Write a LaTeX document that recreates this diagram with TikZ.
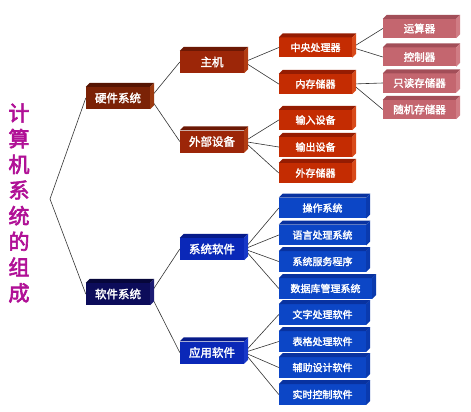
\documentclass[tikz,border=0pt]{standalone}
\usepackage{fontspec}
\newfontfamily\cjk{Noto Sans CJK SC}[FakeBold=2.2]
\newfontfamily\cjkt{Noto Sans CJK SC}[FakeBold=3]
\usetikzlibrary{backgrounds}
\definecolor{hAf}{HTML}{7B2206}\definecolor{hAt}{HTML}{561403}\definecolor{hAs}{HTML}{9C3A10}
\definecolor{hBf}{HTML}{9C2608}\definecolor{hBt}{HTML}{6C1804}\definecolor{hBs}{HTML}{B23C12}
\definecolor{hCf}{HTML}{C42C02}\definecolor{hCt}{HTML}{951C02}\definecolor{hCs}{HTML}{D84A1A}
\definecolor{hDf}{HTML}{C4666F}\definecolor{hDt}{HTML}{A24E58}\definecolor{hDs}{HTML}{D07C84}
\definecolor{sAf}{HTML}{0C0C5A}\definecolor{sAt}{HTML}{06063A}\definecolor{sAs}{HTML}{1C1C74}
\definecolor{sBf}{HTML}{0A28B8}\definecolor{sBt}{HTML}{061A8A}\definecolor{sBs}{HTML}{1838C8}
\definecolor{sCf}{HTML}{0C46C6}\definecolor{sCt}{HTML}{0832A0}\definecolor{sCs}{HTML}{0A3AAE}
\definecolor{titlec}{RGB}{176,16,150}
\tikzset{
  bx/.style={rectangle, inner sep=0pt, text=white},
  lvA/.style={bx, minimum width=64pt, minimum height=22pt, font=\cjk\fontsize{11.5}{13}\selectfont},
  lvB/.style={bx, minimum width=64pt, minimum height=22pt, font=\cjk\fontsize{11.5}{13}\selectfont},
  lvC/.style={bx, minimum width=73pt, minimum height=20pt, font=\cjk\fontsize{10}{12}\selectfont},
  lvD/.style={bx, minimum width=73pt, minimum height=19pt, font=\cjk\fontsize{10.5}{12}\selectfont},
  lvS/.style={bx, minimum width=87pt, minimum height=20.5pt, font=\cjk\fontsize{10}{12}\selectfont},
  link/.style={draw=black!80, line width=0.6pt},
}
\newcommand\boxfaces[3]{%
  \fill[#2] (#1.north west) -- ++(4pt,4pt) -- ([shift={(4pt,4pt)}]#1.north east) -- (#1.north east) -- cycle;
  \fill[#3] (#1.north east) -- ([shift={(4pt,4pt)}]#1.north east) -- ([shift={(4pt,4pt)}]#1.south east) -- (#1.south east) -- cycle;}
\begin{document}
\begin{tikzpicture}[x=1pt,y=-1pt]
\useasboundingbox (0,0) rectangle (471,412);
% title
\node[font=\cjkt\fontsize{21}{25.7}\selectfont, text=titlec, align=center, inner sep=0pt] (title) at (19,203) {计\\算\\机\\系\\统\\的\\组\\成};
\coordinate (root) at (50,199);
% hardware
\node[lvA, fill=hAf] (hw) at (118,98) {硬件系统}; \boxfaces{hw}{hAt}{hAs}
\node[lvB, fill=hBf] (zj) at (212,62) {主机}; \boxfaces{zj}{hBt}{hBs}
\node[lvB, fill=hBf] (wb) at (212,141.5) {外部设备}; \boxfaces{wb}{hBt}{hBs}
\node[lvC, fill=hCf] (cpu) at (315.5,47.5) {中央处理器}; \boxfaces{cpu}{hCt}{hCs}
\node[lvC, fill=hCf] (nc) at (315.5,84) {内存储器}; \boxfaces{nc}{hCt}{hCs}
\node[lvC, fill=hCf] (sr) at (315.5,120) {输入设备}; \boxfaces{sr}{hCt}{hCs}
\node[lvC, fill=hCf] (sc) at (315.5,147) {输出设备}; \boxfaces{sc}{hCt}{hCs}
\node[lvC, fill=hCf] (wc) at (315.5,173) {外存储器}; \boxfaces{wc}{hCt}{hCs}
\node[lvD, fill=hDf] (ys) at (419.5,28.5) {运算器}; \boxfaces{ys}{hDt}{hDs}
\node[lvD, fill=hDf] (kz) at (419.5,57) {控制器}; \boxfaces{kz}{hDt}{hDs}
\node[lvD, fill=hDf] (zd) at (419.5,83) {只读存储器}; \boxfaces{zd}{hDt}{hDs}
\node[lvD, fill=hDf] (sj) at (419.5,109.5) {随机存储器}; \boxfaces{sj}{hDt}{hDs}
% software
\node[lvA, fill=sAf] (sw) at (118,294) {软件系统}; \boxfaces{sw}{sAt}{sAs}
\node[lvB, fill=sBf] (xt) at (212,249) {系统软件}; \boxfaces{xt}{sBt}{sBs}
\node[lvB, fill=sBf] (yy) at (212,352.5) {应用软件}; \boxfaces{yy}{sBt}{sBs}
\node[lvS, fill=sCf] (cz) at (322.5,208) {操作系统}; \boxfaces{cz}{sCt}{sCs}
\node[lvS, fill=sCf] (yc) at (322.5,235) {语言处理系统}; \boxfaces{yc}{sCt}{sCs}
\node[lvS, fill=sCf] (fw) at (322.5,261.5) {系统服务程序}; \boxfaces{fw}{sCt}{sCs}
\node[lvS, fill=sCf, minimum width=93pt] (sjk) at (325.5,288.5) {数据库管理系统}; \boxfaces{sjk}{sCt}{sCs}
\node[lvS, fill=sCf] (wz) at (322.5,314.5) {文字处理软件}; \boxfaces{wz}{sCt}{sCs}
\node[lvS, fill=sCf] (bg) at (322.5,341.5) {表格处理软件}; \boxfaces{bg}{sCt}{sCs}
\node[lvS, fill=sCf] (fz) at (322.5,367.5) {辅助设计软件}; \boxfaces{fz}{sCt}{sCs}
\node[lvS, fill=sCf] (ss) at (322.5,394.5) {实时控制软件}; \boxfaces{ss}{sCt}{sCs}
\begin{pgfonlayer}{background}
\draw[link] (root) -- (hw.west);
\draw[link] (root) -- (sw.west);
\draw[link] (hw.east) -- (zj.west);
\draw[link] (hw.east) -- (wb.west);
\draw[link] (zj.east) -- (cpu.west);
\draw[link] (zj.east) -- (nc.west);
\draw[link] (wb.east) -- (sr.west);
\draw[link] (wb.east) -- (sc.west);
\draw[link] (wb.east) -- (wc.west);
\draw[link] (cpu.east) -- (ys.west);
\draw[link] (cpu.east) -- (kz.west);
\draw[link] (nc.east) -- (zd.west);
\draw[link] (nc.east) -- (sj.west);
\draw[link] (sw.east) -- (xt.west);
\draw[link] (sw.east) -- (yy.west);
\foreach \t in {cz,yc,fw,sjk} \draw[link] (xt.east) -- (\t.west);
\foreach \t in {wz,bg,fz,ss} \draw[link] (yy.east) -- (\t.west);
\end{pgfonlayer}
\end{tikzpicture}
\end{document}
